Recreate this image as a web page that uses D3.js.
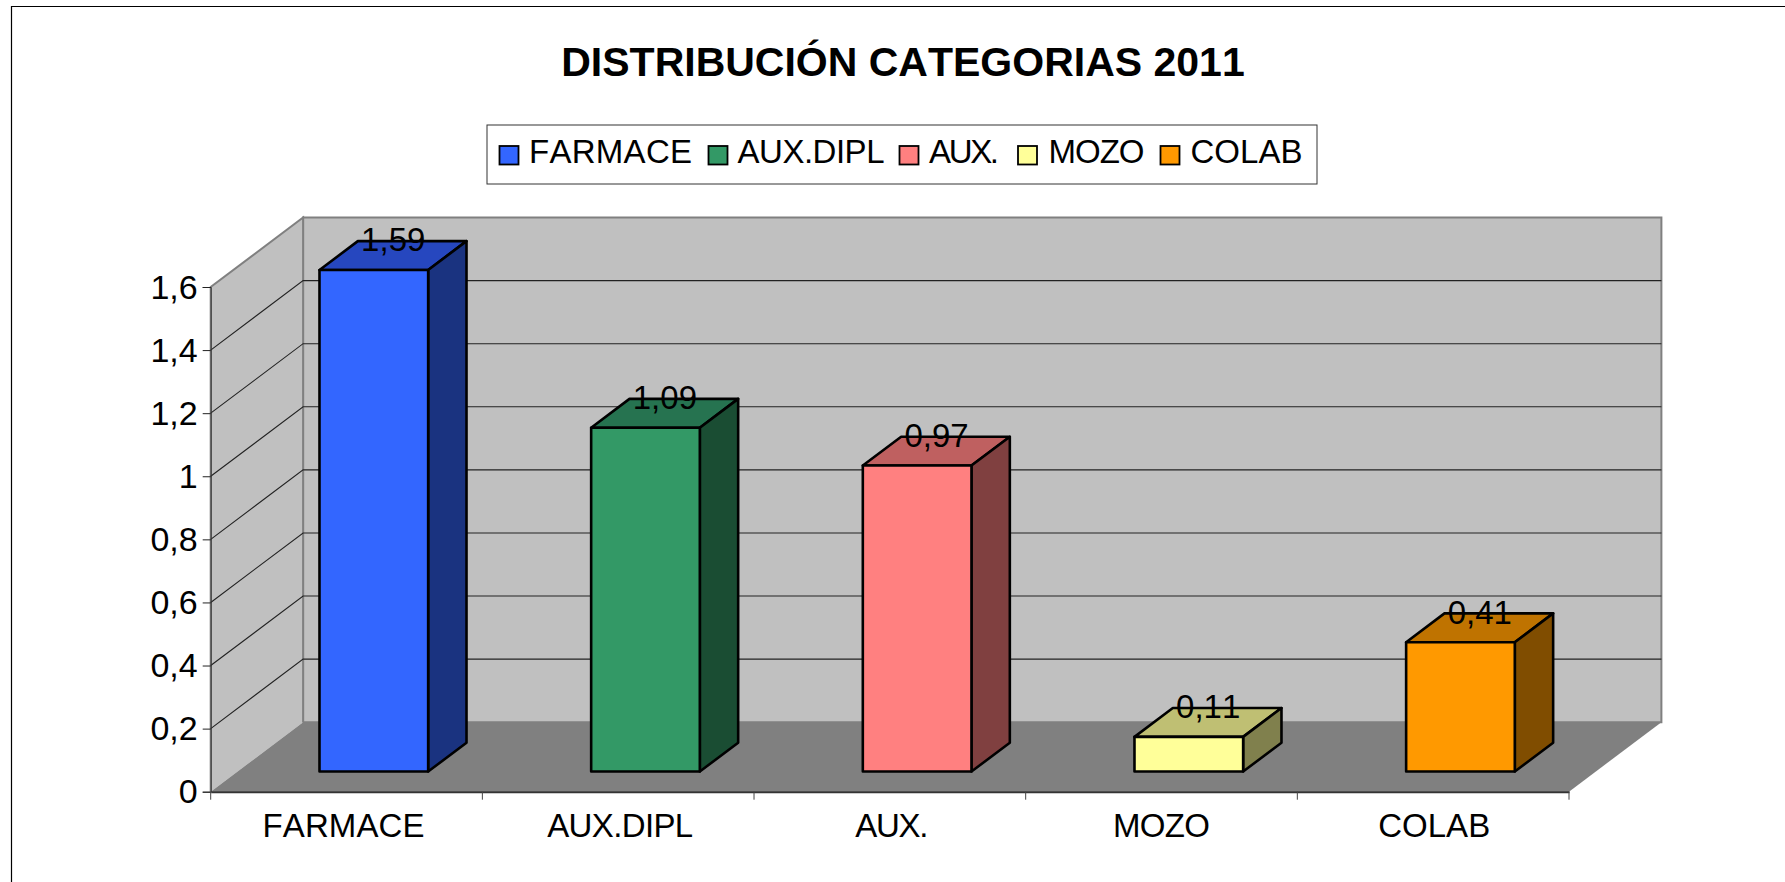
<!DOCTYPE html>
<html>
<head>
<meta charset="utf-8">
<script src="https://cdn.jsdelivr.net/npm/d3@7"></script>
<style>
  html, body { margin: 0; padding: 0; background: #fff; }
  svg { display: block; }
  text { font-family: "Liberation Sans", Arial, sans-serif; fill: #000; font-kerning: none; }
</style>
</head>
<body>
<svg id="chart"></svg>
<script>
const categories = ["FARMACE", "AUX.DIPL", "AUX.", "MOZO", "COLAB"];
const values = [1.59, 1.09, 0.97, 0.11, 0.41];
const valueLabels = ["1,59", "1,09", "0,97", "0,11", "0,41"];
const yTicks = [0, 0.2, 0.4, 0.6, 0.8, 1, 1.2, 1.4, 1.6];
const faceColors = ["#3366FF", "#339966", "#FF8080", "#FFFF99", "#FF9900"];
const topColors = ["#2647BF", "#267350", "#BF6060", "#BFBF73", "#BF7300"];
const sideColors = ["#1A3380", "#1A4D33", "#804040", "#80804D", "#804D00"];
const legendX = [499.5, 708.5, 899.5, 1018, 1160.5];
const legendTextX = [529, 737.5, 929, 1048.5, 1190.5];
const legendWidths = [163, 147, 70, 96, 112];
const axisLabelWidths = [162, 146, 73, 97, 112];
const axisLabelNudge = [-3, 2, 2, 0, 1];

const width = 1785, height = 882;
const svg = d3.select("#chart").attr("width", width).attr("height", height);

const band = d3.scaleBand().domain(categories).range([210.7, 1569]);
const x = d3.scaleBand().domain(categories).range([211.2, 1569.5]).paddingInner(0.6).paddingOuter(0.3);
const y = d3.scaleLinear().domain([0, 1.6]).range([791.7, 287]);

// depth of the box: 0 = front of the floor, 1 = back wall
const depthX = d3.scaleLinear().domain([0, 1]).range([0, 92.4]);
const depthY = d3.scaleLinear().domain([0, 1]).range([0, -69.5]);
const barFront = 0.29, barBack = 0.705;

const pt = (px, v, d) => [px + depthX(d), y(v) + depthY(d)];
const left = band.range()[0], right = band.range()[1];
const top16 = 1.6;
const line = d3.line();
const poly = pts => line(pts) + "Z";

// chart frame, only left and top show up
svg.append("path").attr("d", `M11.5,${height}V6.5H${width}`)
  .attr("fill", "none").attr("stroke", "#000").attr("stroke-width", 1.2);

svg.append("text").attr("x", 903).attr("y", 76).attr("text-anchor", "middle")
  .attr("font-size", 41).attr("font-weight", "bold").text("DISTRIBUCIÓN CATEGORIAS 2011");

// legend
svg.append("rect").attr("x", 487).attr("y", 125).attr("width", 830).attr("height", 59)
  .attr("fill", "#fff").attr("stroke", "#333").attr("stroke-width", 1);
const legend = svg.selectAll(".legend-item").data(categories).enter().append("g").attr("class", "legend-item");
legend.append("rect").attr("x", (d, i) => legendX[i]).attr("y", 146).attr("width", 19).attr("height", 18.5)
  .attr("fill", (d, i) => faceColors[i]).attr("stroke", "#000").attr("stroke-width", 1.8);
legend.append("text").attr("x", (d, i) => legendTextX[i]).attr("y", 163).attr("font-size", 33)
  .attr("textLength", (d, i) => legendWidths[i]).attr("lengthAdjust", "spacing").text(d => d);

// walls and floor
svg.append("path").attr("d", poly([pt(left, 0, 1), pt(right, 0, 1), pt(right, top16, 1), pt(left, top16, 1)]))
  .attr("fill", "#C0C0C0").attr("stroke", "#808080").attr("stroke-width", 2);
svg.append("path").attr("d", poly([pt(left, 0, 0), pt(left, 0, 1), pt(left, top16, 1), pt(left, top16, 0)]))
  .attr("fill", "#C0C0C0").attr("stroke", "none");
svg.append("path").attr("d", line([pt(left, 0, 0), pt(left, top16, 0), pt(left, top16, 1), pt(left, 0, 1)]))
  .attr("fill", "none").attr("stroke", "#808080").attr("stroke-width", 2);
svg.append("path").attr("d", poly([pt(left, 0, 0), pt(right, 0, 0), pt(right, 0, 1), pt(left, 0, 1)]))
  .attr("fill", "#808080");

// gridlines on side wall and back wall
const grid = yTicks.filter(v => v > 0 && v < 1.6);
svg.selectAll(".grid").data(grid).enter().append("path").attr("class", "grid")
  .attr("d", v => line([pt(left, v, 0), pt(left, v, 1), pt(right, v, 1)]))
  .attr("fill", "none").attr("stroke", "#222").attr("stroke-width", 1.1);

// bars
const bars = svg.selectAll(".bar").data(categories).enter().append("g").attr("class", "bar");
const barL = d => x(d), barR = d => x(d) + x.bandwidth();
bars.append("path").attr("d", (d, i) => poly([pt(barL(d), values[i], barFront), pt(barR(d), values[i], barFront), pt(barR(d), values[i], barBack), pt(barL(d), values[i], barBack)]))
  .attr("fill", (d, i) => topColors[i]);
bars.append("path").attr("d", (d, i) => poly([pt(barR(d), 0, barFront), pt(barR(d), 0, barBack), pt(barR(d), values[i], barBack), pt(barR(d), values[i], barFront)]))
  .attr("fill", (d, i) => sideColors[i]);
bars.append("path").attr("d", (d, i) => poly([pt(barL(d), 0, barFront), pt(barR(d), 0, barFront), pt(barR(d), values[i], barFront), pt(barL(d), values[i], barFront)]))
  .attr("fill", (d, i) => faceColors[i]);
bars.selectAll("path").attr("stroke", "#000").attr("stroke-width", 2.6).attr("stroke-linejoin", "round");

bars.append("text")
  .attr("x", d => pt(barL(d) + x.bandwidth() / 2, 0, 0.5)[0])
  .attr("y", (d, i) => pt(0, values[i], 0.5)[1] - 4)
  .attr("text-anchor", "middle").attr("font-size", 33)
  .text((d, i) => valueLabels[i]);

// axes
const comma = d3.formatLocale({ decimal: ",", thousands: ".", grouping: [3], currency: ["", ""] }).format("~g");
const yAxis = svg.append("g").attr("transform", `translate(${left},0)`)
  .call(d3.axisLeft(y).tickValues(yTicks).tickFormat(comma).tickSize(8).tickPadding(5));
yAxis.selectAll("text").attr("font-size", 34).style("font-family", '"Liberation Sans", Arial, sans-serif').attr("dy", "0.33em");
yAxis.selectAll("line").attr("stroke", "#222");
yAxis.select(".domain").attr("stroke", "#333");

const xAxis = svg.append("g").attr("transform", `translate(0,${y(0)})`)
  .call(d3.axisBottom(band).tickSize(0).tickPadding(32));
xAxis.selectAll("text").attr("font-size", 33).style("font-family", '"Liberation Sans", Arial, sans-serif')
  .attr("dy", 0).attr("y", 45.5)
  .attr("x", (d, i) => axisLabelNudge[i])
  .attr("textLength", (d, i) => axisLabelWidths[i]).attr("lengthAdjust", "spacing");
xAxis.select(".domain").attr("stroke", "#333").attr("stroke-width", 2);
xAxis.selectAll(".edge").data(d3.range(categories.length + 1)).enter().append("line").attr("class", "edge")
  .attr("x1", i => left + i * band.step()).attr("x2", i => left + i * band.step())
  .attr("y1", 0).attr("y2", 8).attr("stroke", "#444");
</script>
</body>
</html>
